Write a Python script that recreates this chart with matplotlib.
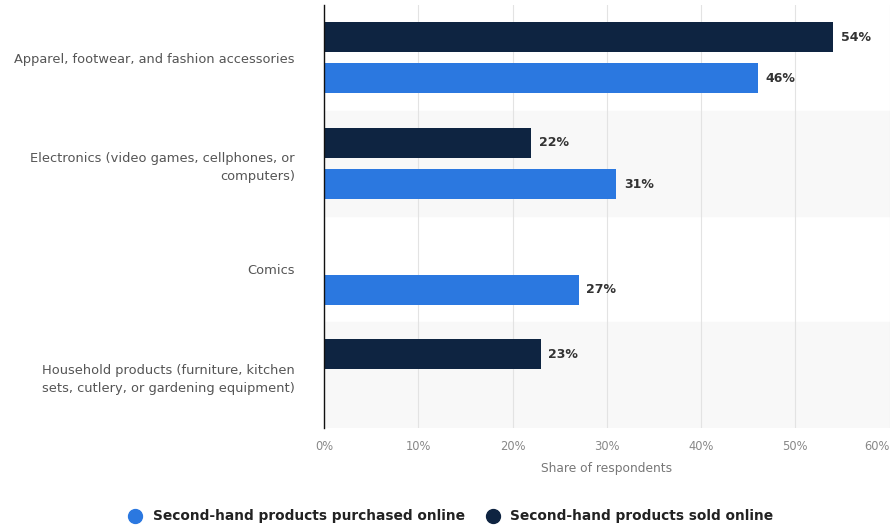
import numpy as np
import matplotlib.pyplot as plt
from matplotlib.lines import Line2D

categories = ["Apparel, footwear, and fashion accessories",
              "Electronics (video games, cellphones, or\ncomputers)",
              "Comics",
              "Household products (furniture, kitchen\nsets, cutlery, or gardening equipment)"]
purchased = [46, 31, 27, np.nan]
sold = [54, 22, np.nan, 23]
series_names = ["Second-hand products purchased online", "Second-hand products sold online"]
xticks = [0, 10, 20, 30, 40, 50, 60]

c_blue = "#2b78e0"
c_navy = "#0e2441"

fig = plt.figure(figsize=(8.95, 5.27), dpi=100)
ax = fig.add_axes([0.362, 0.188, 0.632, 0.803])

y = np.arange(len(categories))
off = 0.195
h = 0.285
ax.barh(y - off, sold, height=h, color=c_navy, zorder=3)
ax.barh(y + off, purchased, height=h, color=c_blue, zorder=3)

# value labels
for yi, v in zip(y - off, sold):
    if not np.isnan(v):
        ax.text(v + 0.8, yi, f"{v:.0f}%", va="center", ha="left",
                fontsize=9, color="#333333", fontweight="bold")
for yi, v in zip(y + off, purchased):
    if not np.isnan(v):
        ax.text(v + 0.8, yi, f"{v:.0f}%", va="center", ha="left",
                fontsize=9, color="#333333", fontweight="bold")

# alternating bands
for i in range(len(categories)):
    if i % 2 == 1:
        ax.axhspan(i - 0.5, i + 0.5, color="#f8f8f8", zorder=0)

ax.set_ylim(len(categories) - 0.5, -0.5)
ax.set_xlim(0, 60)
ax.set_xticks(xticks)
ax.set_xticklabels([f"{t}%" for t in xticks], fontsize=8.3, color="#888888")
ax.get_xticklabels()[-1].set_ha("right")
ax.set_yticks(y)
ax.set_yticklabels(categories, fontsize=9.4, color="#555555", linespacing=1.55)
ax.tick_params(axis="x", length=0, pad=9)
ax.tick_params(axis="y", length=0, pad=21)
ax.grid(axis="x", color="#e3e3e3", linewidth=0.8, zorder=1)
for s in ["top", "right", "bottom"]:
    ax.spines[s].set_visible(False)
ax.spines["left"].set_color("#111111")
ax.spines["left"].set_linewidth(1.0)
ax.spines["left"].set_zorder(4)
ax.set_xlabel("Share of respondents", fontsize=8.8, color="#777777", labelpad=6)

handles = [Line2D([], [], marker="o", linestyle="", markersize=10, color=c_blue),
           Line2D([], [], marker="o", linestyle="", markersize=10, color=c_navy)]
leg = fig.legend(handles, series_names, loc="center", bbox_to_anchor=(0.5, 0.02),
                 ncol=2, frameon=False, handletextpad=0.3, columnspacing=1.0,
                 prop={"size": 9.9, "weight": "bold"})
for t in leg.get_texts():
    t.set_color("#222222")

fig.savefig("out.png", dpi=100)
